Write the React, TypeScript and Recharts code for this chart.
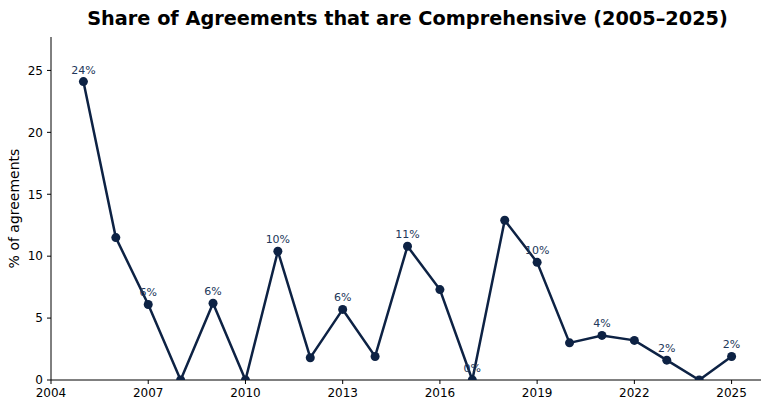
import React from "react";
import { LineChart, Line, XAxis, YAxis, LabelList, Label } from "recharts";

const years = [2005, 2006, 2007, 2008, 2009, 2010, 2011, 2012, 2013, 2014, 2015, 2016, 2017, 2018, 2019, 2020, 2021, 2022, 2023, 2024, 2025];
const shares = [24.1, 11.5, 6.1, 0, 6.2, 0, 10.4, 1.8, 5.7, 1.9, 10.8, 7.3, 0, 12.9, 9.5, 3.0, 3.6, 3.2, 1.6, 0, 1.9];
const xTicks = [2004, 2007, 2010, 2013, 2016, 2019, 2022, 2025];
const yTicks = [0, 5, 10, 15, 20, 25];

const data = years.map((year, i) => ({ year, share: shares[i] }));

const NAVY = "#0d2244";
const FONT = "DejaVu Sans, sans-serif";

/* every other point gets a percentage label */
function PointLabel(props: any) {
  const { x, y, value, index } = props;
  if (index % 2 !== 0) return null;
  return (
    <text x={x} y={y - 8} textAnchor="middle" fontSize={11} fill="#22375a" fontFamily={FONT}>
      {`${Math.round(value)}%`}
    </text>
  );
}

export default function App() {
  return (
    <div style={{ position: "absolute", left: 0, top: 0, width: 761, height: 400, overflow: "hidden", background: "#fff", fontFamily: FONT }}>
      <div
        style={{
          position: "absolute",
          left: 51,
          width: 713,
          top: 7,
          textAlign: "center",
          fontSize: 19.3,
          fontWeight: "bold",
          lineHeight: "24px",
          color: "#000",
        }}
      >
        Share of Agreements that are Comprehensive (2005–2025)
      </div>
      <LineChart width={765} height={400} data={data} margin={{ top: 37, right: 1, left: 0, bottom: 0 }}>
        <XAxis
          dataKey="year"
          type="number"
          domain={[2004, 2026]}
          ticks={xTicks}
          allowDataOverflow
          height={20}
          tickSize={4}
          tickMargin={4}
          tick={{ fontSize: 12, fill: "#000", fontFamily: FONT }}
          axisLine={{ stroke: "#000" }}
          tickLine={{ stroke: "#000" }}
        />
        <YAxis
          domain={[0, 27.7]}
          ticks={yTicks}
          allowDataOverflow
          width={51}
          tickSize={4}
          tickMargin={4}
          tick={{ fontSize: 12, fill: "#000", fontFamily: FONT }}
          axisLine={{ stroke: "#000" }}
          tickLine={{ stroke: "#000" }}
        >
          <Label
            value="% of agreements"
            angle={-90}
            position="insideLeft"
            offset={0}
            style={{ fontSize: 14, fill: "#000", fontFamily: FONT, textAnchor: "middle" }}
            dx={14}
          />
        </YAxis>
        <Line
          dataKey="share"
          stroke={NAVY}
          strokeWidth={2.5}
          dot={{ r: 4.5, fill: NAVY, stroke: NAVY, strokeWidth: 0 }}
          isAnimationActive={false}
        >
          <LabelList dataKey="share" content={<PointLabel />} />
        </Line>
      </LineChart>
    </div>
  );
}
